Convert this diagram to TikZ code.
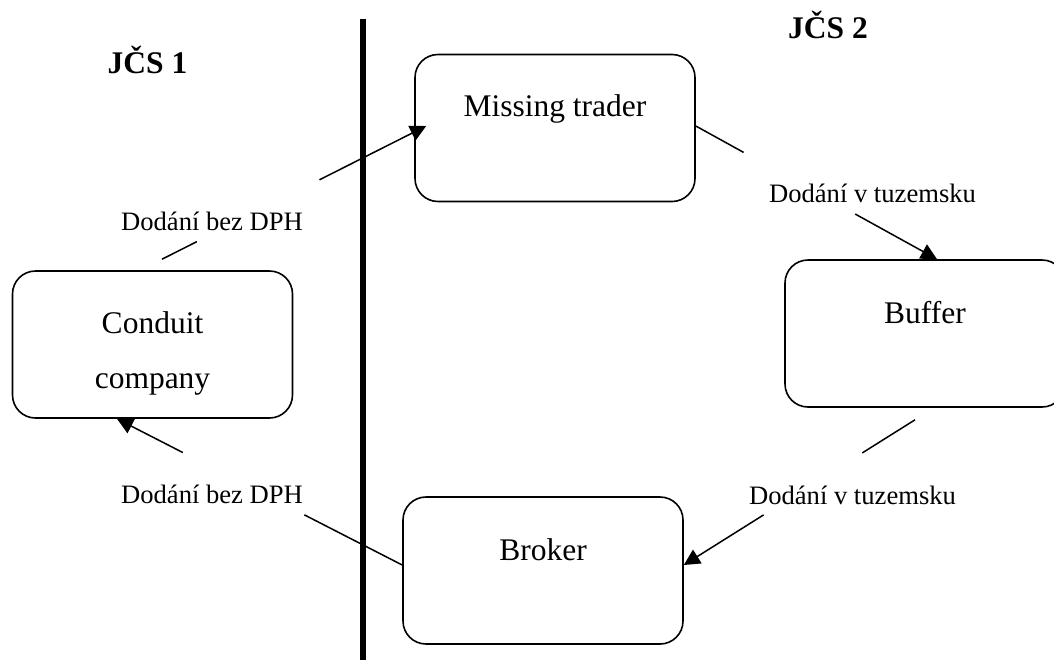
\documentclass[tikz,border=0pt]{standalone}
\usepackage{fontspec}
\setmainfont{Liberation Serif}
\usetikzlibrary{calc,arrows.meta}

\begin{document}
\begin{tikzpicture}[x=1pt,y=-1pt,
  party/.style={draw=black, line width=1.6pt, rounded corners=23pt, fill=white,
    minimum width=280pt, minimum height=147pt, inner sep=0pt},
  partytext/.style={inner sep=0pt, anchor=base, font=\fontsize{31.5}{55}\selectfont, align=center},
  flowlabel/.style={inner sep=0pt, anchor=base, font=\fontsize{26.6}{30}\selectfont},
  region/.style={inner sep=0pt, anchor=base, font=\fontsize{31.5}{36}\selectfont\bfseries},
  flow/.style={line width=1.5pt},
  flowtip/.style={line width=1.5pt, -{Triangle[length=16pt,width=16pt]}},
  border/.style={line width=6pt}
]
\useasboundingbox (0,0) rectangle (1054,659);

% border between the two member states
\coordinate (bordertop) at (363,19);
\coordinate (borderbottom) at (363,665);
\draw[border] (bordertop) -- (borderbottom);

% region headings
\node[region] (ms1) at (147.5,73) {JČS 1};
\node[region] (ms2) at (828,38) {JČS 2};

% the four trading parties
\node[party] (trader) at (555,128) {};
\node[party] (conduit) at (152.5,344.5) {};
\node[party] (buffer) at (925,333.5) {};
\node[party] (broker) at (543,570.5) {};

\node[partytext] (tradertext) at ($(trader.north)+(0,63)$) {Missing trader};
% base anchor of a two-line node is the baseline of its last line
\node[partytext] (conduittext) at ($(conduit.north)+(0,118)$) {Conduit\\company};
\node[partytext] (buffertext) at ($(buffer.north)+(0,64)$) {Buffer};
\node[partytext] (brokertext) at ($(broker.north)+(0,64)$) {Broker};

% connector end points
\coordinate (c1s) at ($(conduit.north)+(9.5,-11)$);
\coordinate (c1e) at ($(trader.west)+(12,-2)$);
\coordinate (c2s) at ($(trader.east)+(0,-2)$);
\coordinate (c2e) at ($(buffer.north)+(12,0)$);
\coordinate (c3s) at ($(buffer.south)+(-10,12)$);
\coordinate (c3e) at ($(broker.east)+(0,-5.5)$);
\coordinate (c4s) at ($(broker.west)+(0,-5.5)$);
\coordinate (c4e) at ($(conduit.south)+(-35.5,0)$);

% supplies, each broken where its label sits
\draw[flow] (c1s) -- ($(c1s)!0.132!(c1e)$);
\draw[flowtip] ($(c1s)!0.596!(c1e)$) -- (c1e);
\draw[flow] (c2s) -- ($(c2s)!0.198!(c2e)$);
\draw[flowtip] ($(c2s)!0.661!(c2e)$) -- (c2e);
\draw[flow] (c3s) -- ($(c3s)!0.228!(c3e)$);
\draw[flowtip] ($(c3s)!0.655!(c3e)$) -- (c3e);
\draw[flow] (c4s) -- ($(c4s)!0.343!(c4e)$);
\draw[flowtip] ($(c4s)!0.769!(c4e)$) -- (c4e);

% supply labels
\node[flowlabel] (l1) at (212,230) {Dodání bez DPH};
\node[flowlabel] (l2) at (872.5,202) {Dodání v tuzemsku};
\node[flowlabel] (l3) at (852.5,504) {Dodání v tuzemsku};
\node[flowlabel] (l4) at (212,503) {Dodání bez DPH};
\end{tikzpicture}
\end{document}
